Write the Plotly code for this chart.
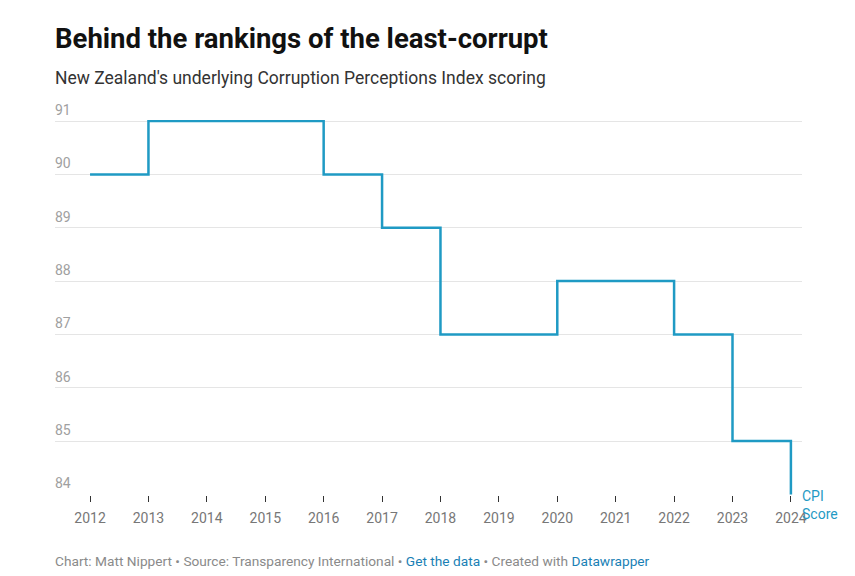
import plotly.graph_objects as go

years = [2012, 2013, 2014, 2015, 2016, 2017, 2018, 2019, 2020, 2021, 2022, 2023, 2024]
scores = [90, 91, 91, 91, 90, 89, 87, 87, 88, 88, 87, 85, 84]
y_ticks = [84, 85, 86, 87, 88, 89, 90, 91]
x_ticks = years
series_label = "CPI<br>Score"

LINE = "#1f9ac4"
FONT = "Roboto"

W, H = 855, 576
T, B = 120, 81
Y0, Y1 = 83.99, 91.02  # slight padding so edge gridlines render

fig = go.Figure()
fig.add_trace(go.Scatter(
    x=years, y=scores, mode="lines", line=dict(shape="hv", color=LINE, width=2.5),
    cliponaxis=False, hoverinfo="x+y", showlegend=False,
))

for v in y_ticks:
    fig.add_annotation(x=0, xref="paper", y=v, yref="y", text=str(v), showarrow=False,
                       xanchor="left", yanchor="bottom", yshift=1, xshift=-2,
                       font=dict(family=FONT, size=14, color="#a0a0a0"))
fig.add_annotation(x=years[-1], xref="x", y=scores[-1], yref="y", text=series_label,
                   showarrow=False, xanchor="left", yanchor="top", xshift=9, yshift=8, align="left",
                   font=dict(family=FONT, size=14, color=LINE))

fig.update_layout(
    width=W, height=H,
    margin=dict(l=55, r=53, t=T, b=B),
    paper_bgcolor="white", plot_bgcolor="white",
    font=dict(family=FONT),
    xaxis=dict(range=[2011.4, 2024.19], tickmode="array", tickvals=x_ticks,
               ticktext=[str(t) for t in x_ticks], showgrid=False, zeroline=False,
               showline=False, ticks="outside", ticklen=6, tickwidth=1, tickcolor="#333",
               ticklabelstandoff=4,
               tickfont=dict(family=FONT, size=14, color="#777")),
    yaxis=dict(range=[Y0, Y1], tickvals=y_ticks, showticklabels=False, showgrid=True,
               gridcolor="#e5e5e5", gridwidth=1, zeroline=False, showline=False),
)

H_PLOT = H - T - B
def py(pix):
    return (H - B - pix) / H_PLOT

fig.add_annotation(x=0, xref="paper", y=py(38), yref="paper", yanchor="middle", xanchor="left",
                   xshift=-2, text="<b>Behind the rankings of the least-corrupt</b>", showarrow=False,
                   font=dict(family=FONT, size=27.5, color="#111"))
fig.add_annotation(x=0, xref="paper", y=py(78), yref="paper", yanchor="middle", xanchor="left",
                   xshift=-2, text="New Zealand's underlying Corruption Perceptions Index scoring",
                   showarrow=False, font=dict(family=FONT, size=17.5, color="#333"))
fig.add_annotation(x=0, xref="paper", y=py(561), yref="paper", yanchor="middle", xanchor="left",
                   xshift=-2,
                   text=("Chart: Matt Nippert • Source: Transparency International • "
                         "<span style='color:#1a7fb5'>Get the data</span> • Created with "
                         "<span style='color:#1a7fb5'>Datawrapper</span>"),
                   showarrow=False, font=dict(family=FONT, size=13.7, color="#8a8a8a"))

fig.write_html("out.html")
